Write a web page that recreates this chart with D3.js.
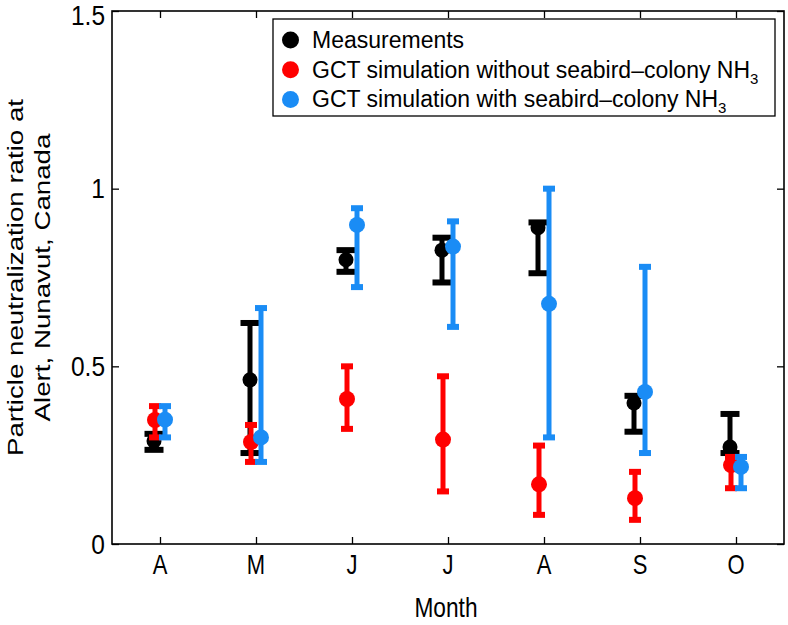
<!DOCTYPE html>
<html>
<head>
<meta charset="utf-8">
<script src="https://cdn.jsdelivr.net/npm/d3@7"></script>
<style>
  html, body { margin: 0; padding: 0; background: #fff; }
  svg { display: block; }
  text { font-family: "Liberation Sans", Arial, Helvetica, sans-serif; fill: #000; }
</style>
</head>
<body>
<svg id="chart" width="788" height="625"></svg>
<script>
// ---- data ----
const months = ["A", "M", "J", "J", "A", "S", "O"];
const yTicks = [0, 0.5, 1, 1.5];
const yTickLabels = ["0", "0.5", "1", "1.5"];

const measVal = [0.29, 0.462, 0.80, 0.827, 0.89, 0.397, 0.273];
const measLo  = [0.265, 0.256, 0.766, 0.736, 0.762, 0.316, 0.256];
const measHi  = [0.31, 0.622, 0.827, 0.862, 0.905, 0.417, 0.366];

const noSeabirdVal = [0.349, 0.287, 0.408, 0.294, 0.168, 0.129, 0.222];
const noSeabirdLo  = [0.30, 0.231, 0.324, 0.148, 0.082, 0.068, 0.157];
const noSeabirdHi  = [0.388, 0.335, 0.50, 0.472, 0.277, 0.203, 0.245];

const withSeabirdVal = [0.35, 0.30, 0.898, 0.837, 0.676, 0.428, 0.217];
const withSeabirdLo  = [0.30, 0.231, 0.723, 0.611, 0.30, 0.256, 0.157];
const withSeabirdHi  = [0.388, 0.664, 0.945, 0.908, 1.0, 0.78, 0.245];

const seriesNames = ["Measurements", "GCT simulation without seabird\u2013colony NH", "GCT simulation with seabird\u2013colony NH"];
const seriesSub = ["", "3", "3"];
const seriesColors = ["#000000", "#ff0000", "#1a8cf5"];

// ---- layout ----
const svg = d3.select("#chart");
const mLeft = 112, mRight = 784, mTop = 11, mBottom = 544;

const x = d3.scaleLinear().domain([0.5, 7.5]).range([mLeft, mRight]);
const y = d3.scaleLinear().domain([0, 1.5]).range([mBottom, mTop]);

const series = [
  { vals: measVal, lo: measLo, hi: measHi, color: seriesColors[0], dx: -6, capW: 19, r: 7.5 },
  { vals: noSeabirdVal, lo: noSeabirdLo, hi: noSeabirdHi, color: seriesColors[1], dx: -5, capW: 12, r: 8 },
  { vals: withSeabirdVal, lo: withSeabirdLo, hi: withSeabirdHi, color: seriesColors[2], dx: 5, capW: 12, r: 8 }
];

// axes (ticks inward, mirrored)
const tickLen = 7;
const gB = svg.append("g").attr("transform", `translate(0,${mBottom})`)
  .call(d3.axisBottom(x).tickValues(d3.range(1, 8)).tickFormat("").tickSizeInner(-tickLen).tickSizeOuter(0));
const gT = svg.append("g").attr("transform", `translate(0,${mTop})`)
  .call(d3.axisTop(x).tickValues(d3.range(1, 8)).tickFormat("").tickSizeInner(-tickLen).tickSizeOuter(0));
const gL = svg.append("g").attr("transform", `translate(${mLeft},0)`)
  .call(d3.axisLeft(y).tickValues(yTicks).tickFormat("").tickSizeInner(-tickLen).tickSizeOuter(0));
const gR = svg.append("g").attr("transform", `translate(${mRight},0)`)
  .call(d3.axisRight(y).tickValues(yTicks).tickFormat("").tickSizeInner(-tickLen).tickSizeOuter(0));

[gB, gT, gL, gR].forEach(g => {
  g.select(".domain").remove();
  g.selectAll(".tick line").attr("stroke", "#000").attr("stroke-width", 1.3);
});

// tick labels (slightly tall glyphs, as in the reference)
svg.append("g").selectAll("text").data(months).join("text")
  .attr("transform", (d, i) => `translate(${x(i + 1)},${574}) scale(1,1.22)`)
  .attr("text-anchor", "middle").style("font-size", "22px").text(d => d);
svg.append("g").selectAll("text").data(yTicks).join("text")
  .attr("transform", d => `translate(105,${Math.max(y(d) + 9.5, 24.5)}) scale(1,1.1)`)
  .attr("text-anchor", "end").style("font-size", "24.5px").text((d, i) => yTickLabels[i]);

svg.append("rect").attr("x", mLeft).attr("y", mTop).attr("width", mRight - mLeft).attr("height", mBottom - mTop)
  .attr("fill", "none").attr("stroke", "#000").attr("stroke-width", 1.6);

// error bars + markers
series.forEach(s => {
  const g = svg.append("g");
  months.forEach((m, i) => {
    const cx = x(i + 1) + s.dx;
    g.append("line").attr("x1", cx).attr("x2", cx).attr("y1", y(s.lo[i])).attr("y2", y(s.hi[i]))
      .attr("stroke", s.color).attr("stroke-width", 5);
    [s.lo[i], s.hi[i]].forEach(v => {
      g.append("rect").attr("x", cx - s.capW / 2).attr("y", y(v) - 3).attr("width", s.capW).attr("height", 6)
        .attr("fill", s.color);
    });
    g.append("circle").attr("cx", cx).attr("cy", y(s.vals[i])).attr("r", s.r).attr("fill", s.color);
  });
});

// axis titles
svg.append("text").attr("transform", `translate(${(mLeft + mRight) / 2 - 2},617) scale(1,1.22)`)
  .attr("text-anchor", "middle").style("font-size", "22.7px").text("Month");
const yl = svg.append("text").attr("transform", `translate(0,${(mTop + mBottom) / 2}) rotate(-90) scale(1.22,1)`)
  .attr("text-anchor", "middle").style("font-size", "22.7px");
yl.append("tspan").attr("x", 0).attr("y", 23).text("Particle neutralization ratio at");
yl.append("tspan").attr("x", 0).attr("y", 50).text("Alert, Nunavut, Canada");

// legend
const lg = svg.append("g");
lg.append("rect").attr("x", 273).attr("y", 19).attr("width", 502).attr("height", 97)
  .attr("fill", "#fff").attr("stroke", "#000").attr("stroke-width", 1.3);
seriesNames.forEach((name, i) => {
  const cy = 40 + i * 29.7;
  lg.append("circle").attr("cx", 290.5).attr("cy", cy).attr("r", 8.5).attr("fill", seriesColors[i]);
  const t = lg.append("text").attr("x", 312).attr("y", cy + 8).style("font-size", "23px").text(name);
  if (seriesSub[i]) {
    t.append("tspan").attr("dy", 6).style("font-size", "15px").text(seriesSub[i]);
  }
});
</script>
</body>
</html>
